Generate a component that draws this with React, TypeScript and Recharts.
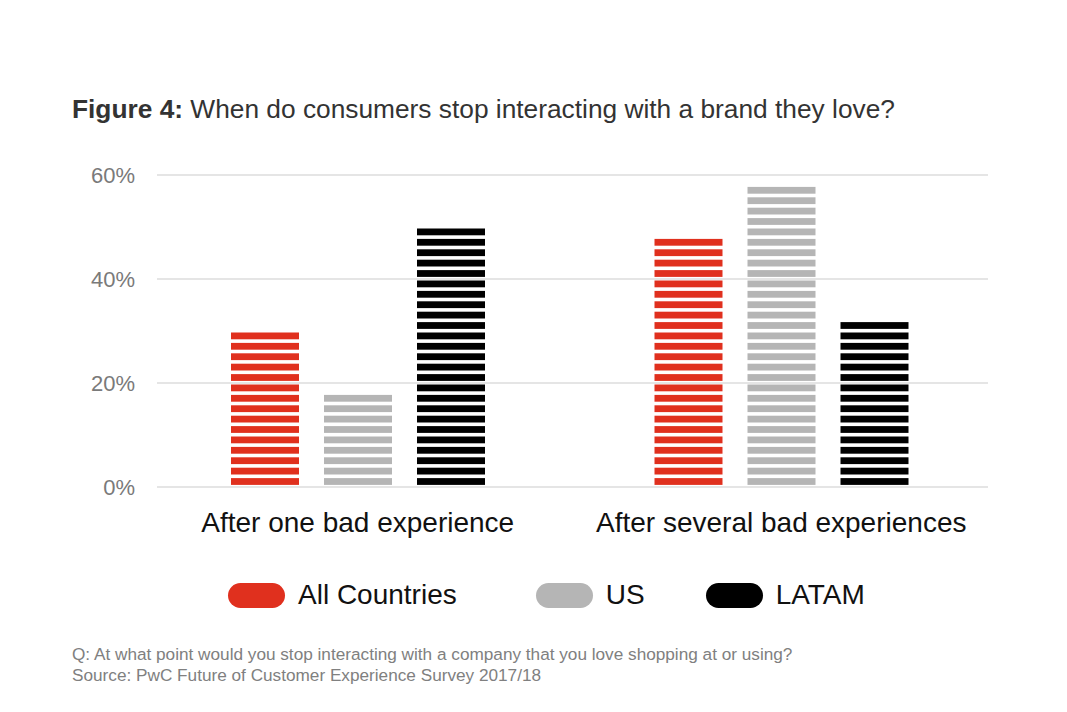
import React from "react";
import { BarChart, Bar, XAxis, YAxis, CartesianGrid } from "recharts";

const categories = ["After one bad experience", "After several bad experiences"];
const allCountries = [30, 48];
const us = [18, 58];
const latam = [50, 32];
const yTicks = [0, 20, 40, 60];

const seriesNames = ["All Countries", "US", "LATAM"];
const colors = ["#e0301e", "#b5b5b5", "#000000"];

const data = categories.map((c, i) => ({
  name: c,
  all: allCountries[i],
  us: us[i],
  latam: latam[i],
}));

const FONT = "'Liberation Sans', Arial, Helvetica, sans-serif";
const legendGaps = [79, 61, 0];

// bars are drawn as horizontal stripes
function StripedBar(props: any) {
  const { x, y, width, height, fill } = props;
  if (!height || height <= 0) return null;
  const step = 10.4;
  const stripe = 6.8;
  const rects = [];
  for (let top = y + 1.5; top < y + height; top += step) {
    const h = Math.min(stripe, y + height - top);
    rects.push(<rect key={top} x={x} y={top} width={width} height={h} fill={fill} />);
  }
  return <g>{rects}</g>;
}

function LegendContent() {
  return (
    <div style={{ display: "flex", alignItems: "center", fontFamily: FONT }}>
      {seriesNames.map((n, i) => (
        <div key={n} style={{ display: "flex", alignItems: "center", marginRight: legendGaps[i] }}>
          <div
            style={{
              width: 57,
              height: 25,
              borderRadius: 12.5,
              background: colors[i],
              marginRight: 13,
            }}
          />
          <span style={{ fontSize: 28, color: "#111" }}>{n}</span>
        </div>
      ))}
    </div>
  );
}

export default function App() {
  return (
    <div
      style={{
        position: "absolute",
        left: 0,
        top: 0,
        width: 1067,
        height: 712,
        background: "#fff",
        fontFamily: FONT,
      }}
    >
      <div
        style={{
          position: "absolute",
          left: 72,
          top: 94,
          fontSize: 26.3,
          color: "#333",
          whiteSpace: "nowrap",
        }}
      >
        <b>Figure 4:</b> When do consumers stop interacting with a brand they love?
      </div>

      <BarChart
        width={1067}
        height={712}
        data={data}
        margin={{ top: 175, right: 79, bottom: 165, left: 0 }}
        barSize={68}
        barGap={25}
      >
        <CartesianGrid vertical={false} stroke="#dcdcdc" strokeWidth={1.5} />
        <XAxis
          dataKey="name"
          axisLine={false}
          tickLine={false}
          tickSize={0}
          tickMargin={25}
          height={60}
          padding={{ left: -11, right: -5 }}
          tick={{ fontSize: 28, fill: "#111", fontFamily: FONT }}
        />
        <YAxis
          domain={[0, 60]}
          ticks={yTicks}
          width={157}
          axisLine={false}
          tickLine={false}
          tickSize={0}
          tickMargin={22}
          tickFormatter={(v) => `${v}%`}
          tick={{ fontSize: 22, fill: "#7a7a7a", fontFamily: FONT }}
        />
        <Bar dataKey="all" name={seriesNames[0]} fill={colors[0]} shape={<StripedBar />} isAnimationActive={false} />
        <Bar dataKey="us" name={seriesNames[1]} fill={colors[1]} shape={<StripedBar />} isAnimationActive={false} />
        <Bar dataKey="latam" name={seriesNames[2]} fill={colors[2]} shape={<StripedBar />} isAnimationActive={false} />
      </BarChart>

      <div style={{ position: "absolute", left: 228, top: 579 }}>
        <LegendContent />
      </div>

      <div
        style={{
          position: "absolute",
          left: 72,
          top: 644,
          fontSize: 17.2,
          lineHeight: "21px",
          color: "#808080",
          whiteSpace: "nowrap",
        }}
      >
        <div>Q: At what point would you stop interacting with a company that you love shopping at or using?</div>
        <div>Source: PwC Future of Customer Experience Survey 2017/18</div>
      </div>
    </div>
  );
}
